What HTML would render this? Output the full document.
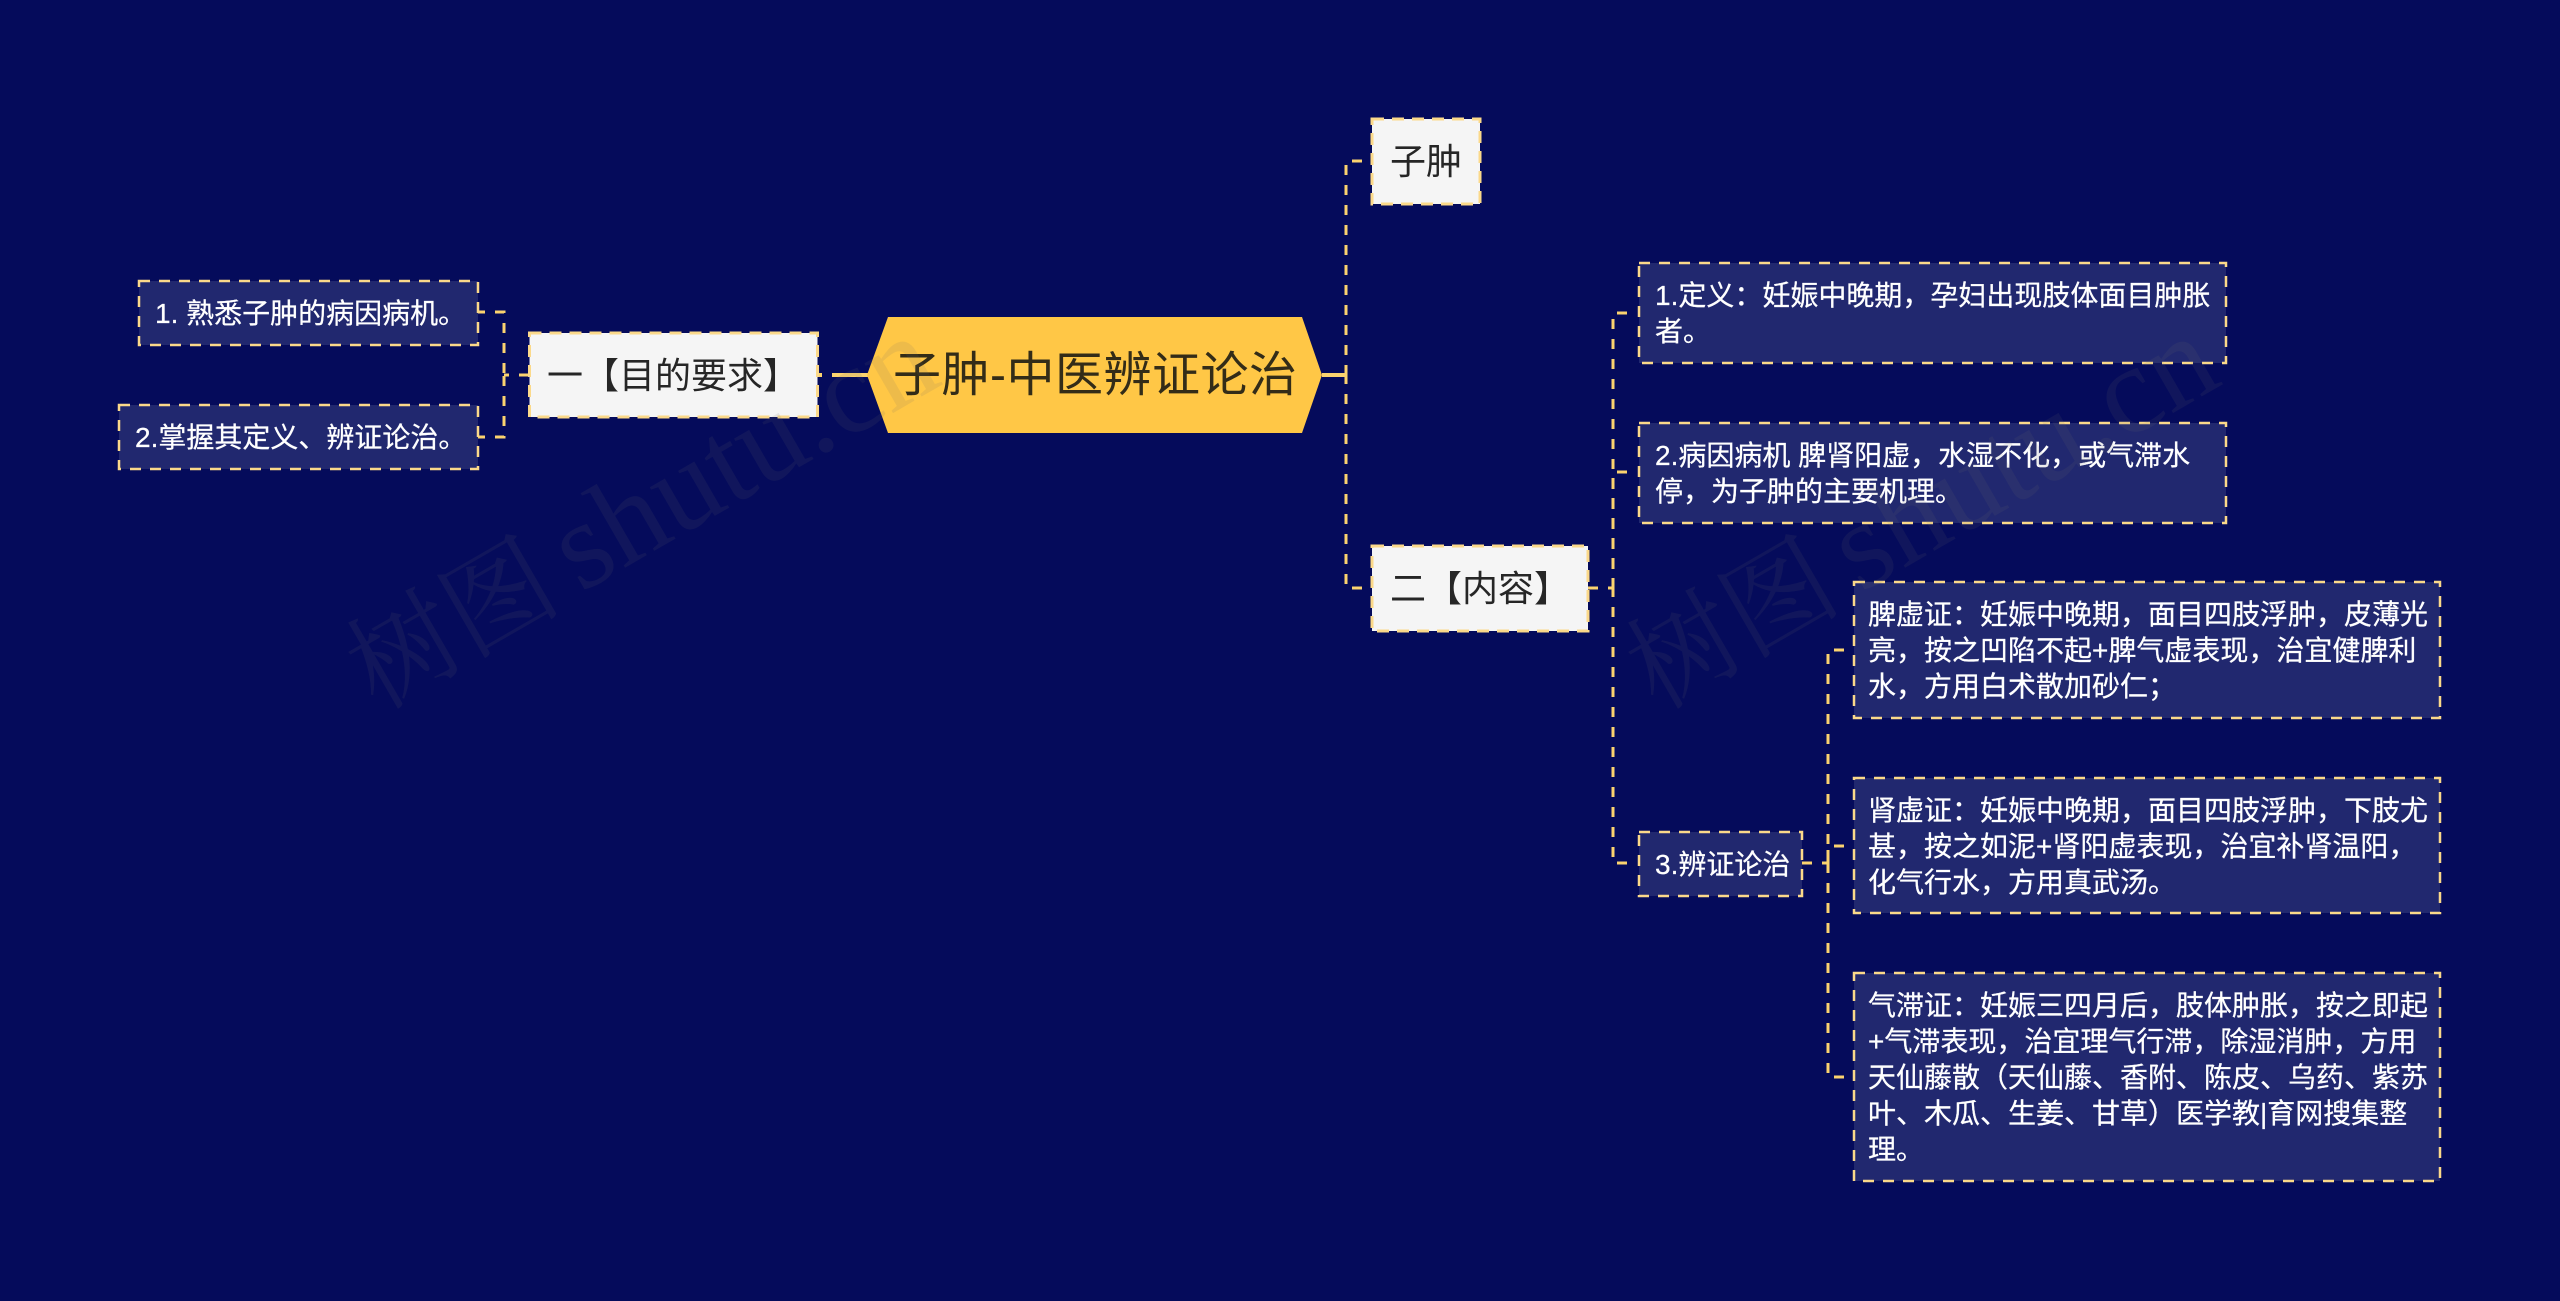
<!DOCTYPE html>
<html lang="zh-CN">
<head>
<meta charset="utf-8">
<title>子肿-中医辨证论治</title>
<style>
html,body{margin:0;padding:0;width:2560px;height:1301px;overflow:hidden;background:#050b5b;}
body{position:relative;font-family:"Liberation Sans","Noto Sans CJK SC",sans-serif;}
svg{position:absolute;left:0;top:0;}
.t{position:absolute;white-space:nowrap;font-size:28px;line-height:36px;color:#fff;-webkit-text-stroke:.25px #fff;}
.k{position:absolute;white-space:nowrap;font-size:36px;line-height:85px;height:85px;color:#262626;}
.r{position:absolute;white-space:nowrap;font-size:48px;line-height:116px;color:#332c18;letter-spacing:.5px;}
.w{position:absolute;white-space:nowrap;font-family:"Liberation Serif","Noto Serif CJK SC",serif;font-size:125px;line-height:130px;word-spacing:-12px;color:rgba(110,110,110,.12);transform-origin:0 50%;transform:rotate(-30deg);}
.w span{font-size:108px;}
</style>
</head>
<body>
<svg width="2560" height="1301" viewBox="0 0 2560 1301" fill="none">
  <g stroke="#fbd36f" stroke-width="3" stroke-dasharray="10 10">
    <path d="M1372 161H1346V375" stroke-dashoffset="10"/>
    <path d="M1372 588H1346V375" stroke-dashoffset="10"/>
    <path d="M478 312H504V375" stroke-dashoffset="3"/>
    <path d="M478 437H504V375" stroke-dashoffset="3"/>
    <path d="M529 375H504"/>
    <path d="M1588 588H1613"/>
    <path d="M1637 313H1613V588" stroke-dashoffset="10"/>
    <path d="M1637 472H1613V588" stroke-dashoffset="10"/>
    <path d="M1637 863H1613V588" stroke-dashoffset="10"/>
    <path d="M1802 863H1828"/>
    <path d="M1854 650H1828V863" stroke-dashoffset="10"/>
    <path d="M1854 846H1828V863" stroke-dashoffset="10"/>
    <path d="M1854 1077H1828V863" stroke-dashoffset="10"/>
  </g>
  <g stroke="#fbd36f" stroke-width="4">
    <path d="M1322 375H1346"/>
    <path d="M832 375H868"/>
    <path d="M818 375H822"/>
  </g>
  <polygon points="888,317 1302,317 1322,375 1302,433 888,433 867,375" fill="#ffc746"/>
  <g fill="#f5f5f5" stroke="#fbd98a" stroke-width="3" stroke-dasharray="12 8">
    <rect x="1372" y="119" width="108" height="85"/>
    <rect x="529.5" y="333" width="288" height="84"/>
    <rect x="1372" y="546" width="216" height="85"/>
  </g>
  <g fill="#21286f" stroke="#fbd98a" stroke-width="2.5" stroke-dasharray="11 9">
    <rect x="139" y="281" width="339" height="64"/>
    <rect x="119" y="405" width="359" height="64"/>
    <rect x="1639" y="263" width="587" height="100"/>
    <rect x="1639" y="423" width="587" height="100"/>
    <rect x="1639" y="832" width="163" height="64"/>
    <rect x="1854" y="582" width="586" height="136"/>
    <rect x="1854" y="778" width="586" height="135"/>
    <rect x="1854" y="973" width="586" height="208"/>
  </g>
</svg>

<div class="r" style="left:893px;top:318px;">子肿-中医辨证论治</div>

<div class="k" style="left:1390px;top:119px;">子肿</div>
<div class="k" style="left:547px;top:333px;">一【目的要求】</div>
<div class="k" style="left:1390px;top:546px;">二【内容】</div>

<div class="t" style="left:155px;top:296px;">1. 熟悉子肿的病因病机。</div>
<div class="t" style="left:135px;top:420px;">2.掌握其定义、辨证论治。</div>

<div class="t" style="left:1655px;top:278px;">1.定义：妊娠中晚期，孕妇出现肢体面目肿胀<br>者。</div>
<div class="t" style="left:1655px;top:438px;">2.病因病机 脾肾阳虚，水湿不化，或气滞水<br>停，为子肿的主要机理。</div>
<div class="t" style="left:1655px;top:847px;">3.辨证论治</div>

<div class="t" style="left:1868px;top:597px;">脾虚证：妊娠中晚期，面目四肢浮肿，皮薄光<br>亮，按之凹陷不起+脾气虚表现，治宜健脾利<br>水，方用白术散加砂仁；</div>
<div class="t" style="left:1868px;top:793px;">肾虚证：妊娠中晚期，面目四肢浮肿，下肢尤<br>甚，按之如泥+肾阳虚表现，治宜补肾温阳，<br>化气行水，方用真武汤。</div>
<div class="t" style="left:1868px;top:988px;">气滞证：妊娠三四月后，肢体肿胀，按之即起<br>+气滞表现，治宜理气行滞，除湿消肿，方用<br>天仙藤散（天仙藤、香附、陈皮、乌药、紫苏<br>叶、木瓜、生姜、甘草）医学教|育网搜集整<br>理。</div>

<div class="w" style="left:358px;top:610px;"><span>树图</span> shutu.cn</div>
<div class="w" style="left:1638px;top:610px;"><span>树图</span> shutu.cn</div>
</body>
</html>
